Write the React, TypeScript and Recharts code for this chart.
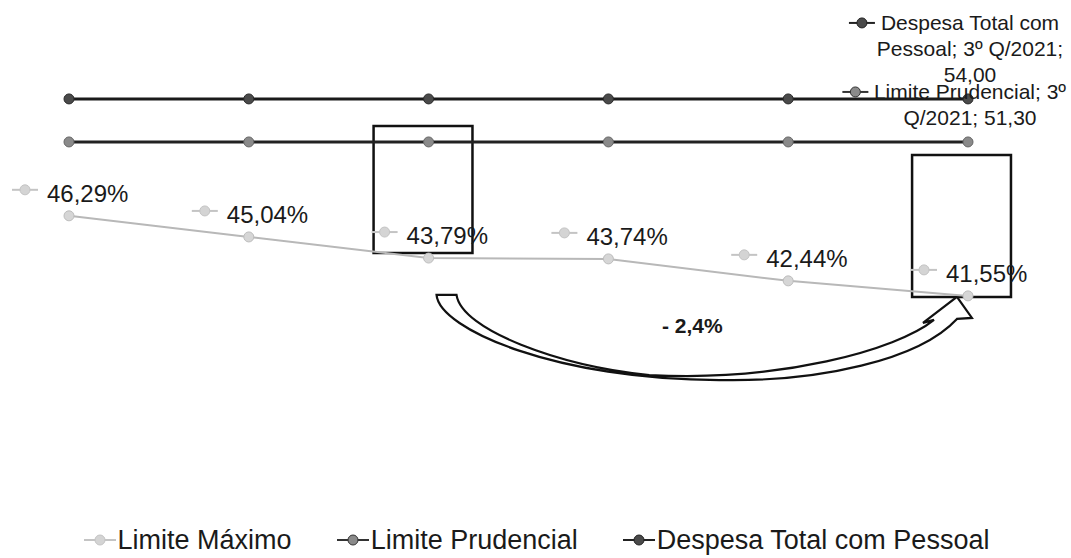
import React from "react";
import {
  LineChart,
  Line,
  XAxis,
  YAxis,
  LabelList,
  ReferenceArea,
} from "recharts";

const categories = ["1º Q/2020", "2º Q/2020", "3º Q/2020", "1º Q/2021", "2º Q/2021", "3º Q/2021"];
const limiteMaximo = [46.29, 45.04, 43.79, 43.74, 42.44, 41.55];
const limitePrudencial = [51.3, 51.3, 51.3, 51.3, 51.3, 51.3];
const despesaTotal = [54.0, 54.0, 54.0, 54.0, 54.0, 54.0];

// boxes drawn round two points, in x index / percent units
const boxes = [
  { x1: 1.694, x2: 2.244, y1: 44.09, y2: 51.61 },
  { x1: 4.689, x2: 5.239, y1: 41.48, y2: 49.89 },
];
const variacao = "- 2,4%";

const FONT = "'Liberation Sans', Arial, sans-serif";

const data = categories.map((cat, i) => ({
  idx: i,
  cat,
  maximo: limiteMaximo[i],
  prudencial: limitePrudencial[i],
  despesa: despesaTotal[i],
}));

function fmt(v: number, d = 2) {
  return v.toFixed(d).replace(".", ",");
}

function wrap(text: string, max: number) {
  const words = text.split(" ");
  const lines: string[] = [];
  let cur = "";
  for (const w of words) {
    const next = cur ? cur + " " + w : w;
    if (next.length > max && cur) {
      lines.push(cur);
      cur = w;
    } else {
      cur = next;
    }
  }
  if (cur) lines.push(cur);
  return lines;
}

// rough Arial width, in em
function textWidth(s: string, fs: number) {
  let w = 0;
  for (const c of s) {
    if ("il;:,.' |!".includes(c)) w += 0.26;
    else if ("tfjr/".includes(c)) w += 0.3;
    else if (c === "m") w += 0.833;
    else if (c === "º") w += 0.365;
    else if (/[A-Z]/.test(c)) w += 0.68;
    else w += 0.54;
  }
  return w * fs;
}

function Key({ x, y, line, dot, w = 26 }: any) {
  return (
    <g>
      <line x1={x} y1={y} x2={x + w} y2={y} stroke={line} strokeWidth={2} />
      <circle cx={x + w / 2} cy={y} r={5} fill={dot} stroke={line} strokeWidth={1} />
    </g>
  );
}

function MaxLabel(props: any) {
  const { x, y, value } = props;
  if (x == null || y == null) return null;
  return (
    <g>
      <Key x={x - 57} y={y - 26} line="#c4c4c4" dot="#d4d4d4" />
      <text x={x - 22} y={y - 14} fontSize={24} fill="#1a1a1a" fontFamily={FONT}>
        {fmt(value)}%
      </text>
    </g>
  );
}

function makeEndLabel(name: string, line: string, dot: string) {
  return (props: any) => {
    const { x, y, value, index } = props;
    if (index !== categories.length - 1 || x == null) return null;
    const lines = wrap(`${name}; ${categories[index]}; ${fmt(value)}`, 21);
    const fs = 21;
    const lh = 26;
    const cx = x + 2;
    const firstW = textWidth(lines[0], fs);
    const baseTop = y - 17 - (lines.length - 1) * lh;
    return (
      <g>
        <Key x={cx - firstW / 2 - 30} y={baseTop - 7} line={line} dot={dot} />
        {lines.map((l, i) => (
          <text
            key={i}
            x={cx}
            y={baseTop + i * lh}
            textAnchor="middle"
            fontSize={fs}
            fill="#1a1a1a"
            fontFamily={FONT}
          >
            {l}
          </text>
        ))}
      </g>
    );
  };
}

// curved block arrow, template in a 540 x 88 box
function ArrowShape(props: any) {
  const { x, y, width, height } = props;
  if (x == null) return null;
  const sx = width / 540;
  const sy = height / 88;
  const p = (a: number, b: number) => `${x + a * sx},${y + b * sy}`;
  const d = [
    `M${p(2, 1)}`,
    `L${p(22, 1)}`,
    `C${p(27, 36)} ${p(125, 72)} ${p(215, 81)}`,
    `C${p(345, 88)} ${p(463, 56)} ${p(500, 26)}`,
    `L${p(489, 29)}`,
    `L${p(523, 3)}`,
    `L${p(538, 24)}`,
    `L${p(523, 25)}`,
    `C${p(485, 66)} ${p(385, 88)} ${p(285, 86)}`,
    `C${p(125, 86)} ${p(5, 36)} ${p(2, 1)}`,
    "Z",
  ].join(" ");
  return (
    <g>
      <path d={d} fill="#fff" stroke="#111" strokeWidth={2.2} strokeLinejoin="miter" />
      <text
        x={x + width * 0.478}
        y={y + height * 0.44}
        textAnchor="middle"
        fontSize={21}
        fontWeight="bold"
        fill="#1a1a1a"
        fontFamily={FONT}
      >
        {variacao}
      </text>
    </g>
  );
}

const legendItems = [
  { name: "Limite Máximo", line: "#c4c4c4", dot: "#d4d4d4" },
  { name: "Limite Prudencial", line: "#333", dot: "#8a8a8a" },
  { name: "Despesa Total com Pessoal", line: "#222", dot: "#4a4a4a" },
];

export default function App() {
  return (
    <div
      style={{
        position: "absolute",
        left: 0,
        top: 0,
        width: 1071,
        height: 558,
        background: "#fff",
        fontFamily: FONT,
      }}
    >
      <LineChart
        width={1071}
        height={558}
        data={data}
        margin={{ top: 18, right: 103, bottom: 67, left: 69 }}
      >
        <XAxis dataKey="idx" type="number" domain={[0, 5]} hide />
        <YAxis yAxisId="pct" domain={[30, 58]} hide allowDataOverflow />
        <YAxis yAxisId="lim" domain={[29.39, 59.08]} hide allowDataOverflow />

        {boxes.map((b, i) => (
          <ReferenceArea
            key={i}
            yAxisId="pct"
            x1={b.x1}
            x2={b.x2}
            y1={b.y1}
            y2={b.y2}
            fill="none"
            fillOpacity={0}
            stroke="#111"
            strokeWidth={2.5}
            ifOverflow="visible"
          />
        ))}
        <ReferenceArea
          yAxisId="pct"
          x1={2.033}
          x2={5.033}
          y1={36.45}
          y2={41.67}
          ifOverflow="visible"
          shape={ArrowShape}
        />

        <Line
          yAxisId="pct"
          dataKey="maximo"
          name="Limite Máximo"
          type="linear"
          stroke="#b8b8b8"
          strokeWidth={2}
          dot={{ r: 5, fill: "#d6d6d6", stroke: "#bdbdbd", strokeWidth: 1 }}
          isAnimationActive={false}
        >
          <LabelList dataKey="maximo" content={MaxLabel} />
        </Line>
        <Line
          yAxisId="lim"
          dataKey="prudencial"
          name="Limite Prudencial"
          type="linear"
          stroke="#222"
          strokeWidth={3}
          dot={{ r: 5, fill: "#8a8a8a", stroke: "#666", strokeWidth: 1 }}
          isAnimationActive={false}
        >
          <LabelList
            dataKey="prudencial"
            content={makeEndLabel("Limite Prudencial", "#333", "#8a8a8a")}
          />
        </Line>
        <Line
          yAxisId="lim"
          dataKey="despesa"
          name="Despesa Total com Pessoal"
          type="linear"
          stroke="#1a1a1a"
          strokeWidth={3}
          dot={{ r: 5, fill: "#4a4a4a", stroke: "#2a2a2a", strokeWidth: 1 }}
          isAnimationActive={false}
        >
          <LabelList
            dataKey="despesa"
            content={makeEndLabel("Despesa Total com Pessoal", "#222", "#4a4a4a")}
          />
        </Line>
      </LineChart>

      <div
        style={{
          position: "absolute",
          left: 0,
          top: 522,
          width: 1071,
          display: "flex",
          justifyContent: "center",
          gap: 43,
          fontSize: 27,
          color: "#1a1a1a",
          lineHeight: "36px",
        }}
      >
        {legendItems.map((it) => (
          <div key={it.name} style={{ display: "flex", alignItems: "center" }}>
            <svg width={36} height={36}>
              <Key x={2} y={18} line={it.line} dot={it.dot} w={32} />
            </svg>
            <span>{it.name}</span>
          </div>
        ))}
      </div>
    </div>
  );
}
